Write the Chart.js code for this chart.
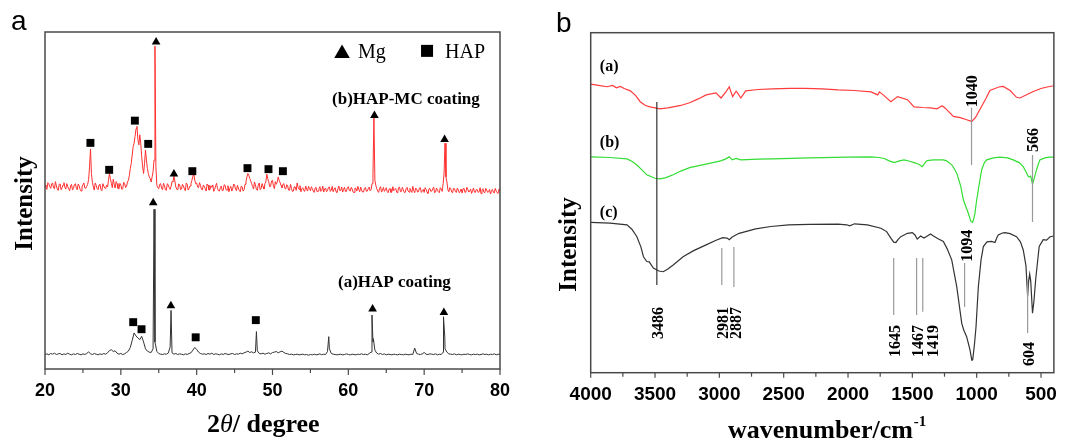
<!DOCTYPE html>
<html><head><meta charset="utf-8">
<script src="https://cdn.jsdelivr.net/npm/chart.js@4.4.1/dist/chart.umd.min.js"></script>
<style>
html,body{margin:0;padding:0;background:#fff;}
#wrap{position:relative;width:1068px;height:444px;overflow:hidden;background:#fff;}
canvas{position:absolute;top:0;}
#cA{left:0;} #cB{left:540px;}
</style></head><body>
<div id="wrap"><canvas id="cA" width="540" height="444"></canvas><canvas id="cB" width="528" height="444"></canvas></div>
<script>
// ---------------- Panel a : XRD ----------------
const xrdStart = 20, xrdStep = 0.25;
const xrdTicks = [20, 30, 40, 50, 60, 70, 80];
// (b) HAP-MC coating, read every 0.25 deg from 20 deg ...
const hapMcBase = [
54.6,53.3,55.0,53.6, 55.2,53.5,54.3,53.0, 54.9,53.8,55.3,53.4, 54.1,52.9,54.8,53.6,
55.0,53.2,54.4,52.8, 54.6,53.7,54.2,56.2, 65.3,55.4,53.1,54.5, 53.2,54.8,52.9,54.3,
53.5,54.0,58.0,55.1, 56.3,53.7,55.0,53.4, 54.6,53.5,55.0,54.2, 56.0,59.5,63.5,67.0,
71.3,68.0,69.5,63.0, 58.0,65.0,59.5,57.0, 55.5,58.5,95.8,54.5, 53.5,55.0,53.2,54.4,
53.0,54.6,53.3,55.6, 57.2,54.0,53.1,54.7, 53.4,54.3,52.9,54.8, 53.6,55.0,57.2,56.0,
55.2,53.8,54.5,53.1, 54.2,52.8,54.6,53.2, 53.9,52.7,54.4,53.5, 52.8,54.3,53.0,54.5,
53.1,52.6,54.2,53.4, 54.6,52.9,53.7,52.6, 54.0,53.2,55.5,58.0, 56.5,55.0,53.4,54.6,
53.0,55.2,53.6,54.1, 55.0,57.8,55.6,54.2, 56.0,53.5,54.8,57.0, 55.3,53.8,55.0,53.4,
54.3,53.0,53.6,52.8, 54.0,55.2,53.3,52.6, 53.8,52.7,53.4,54.2, 52.9,53.5,52.4,53.9,
52.8,54.1,53.0,52.5, 53.7,52.9,54.0,53.1, 52.6,53.8,52.4,54.3, 53.0,52.5,53.9,52.7,
54.1,52.8,53.4,52.4, 53.6,54.2,52.6,53.1, 52.5,53.9,52.8,54.0, 53.2,58.0,56.0,53.5,
52.4,54.1,53.0,52.7, 53.8,52.3,53.5,52.6, 52.9,53.6,52.2,54.0, 52.7,53.2,52.4,53.9,
52.5,53.0,54.2,52.3, 53.4,52.6,53.8,52.9, 52.4,53.3,52.1,53.6, 52.8,54.0,52.5,53.1,
52.3,53.4,55.0,67.0, 55.5,52.6,53.6,52.3, 53.5,52.4,53.1,52.7, 52.2,53.6,52.5,53.3,
52.8,52.1,53.7,52.4, 53.2,52.6,52.0,53.5, 52.3,53.1,52.6,51.9, 53.3,52.2,52.8,52.1,
52.7];
// ... and in between, every 0.25 deg from 20.125 deg
const hapMcMid = [
53.9,55.3,54.1,54.9, 53.7,55.6,53.4,54.8, 53.2,54.6,53.9,55.0, 53.5,54.3,53.1,54.7,
53.8,54.9,53.3,54.0, 55.2,53.6,54.8,60.0, 58.0,54.0,55.2,53.5, 54.6,53.3,55.0,53.7,
54.5,56.0,56.5,53.8, 54.8,55.6,53.6,55.1, 53.3,55.4,53.8,55.5, 57.5,61.0,66.0,69.0,
72.0,66.5,67.0,60.0, 61.0,62.0,58.0,56.5, 57.0,62.0,60.0,53.8, 54.8,53.6,55.1,53.2,
55.0,53.8,54.2,55.5, 55.8,53.4,54.9,53.2, 54.8,53.5,55.2,53.1, 54.3,56.0,58.0,55.0,
54.0,55.3,53.4,54.6, 53.5,54.9,53.1,54.4, 54.6,53.3,55.1,52.9, 53.8,52.9,54.7,53.2,
54.4,53.6,52.8,54.9, 53.3,54.5,52.9,54.3, 52.8,54.8,57.0,57.5, 55.8,54.2,55.5,53.3,
54.6,53.2,55.0,53.4, 55.5,56.5,54.1,55.8, 54.2,55.6,55.5,56.0, 54.5,54.8,53.6,54.7,
53.1,54.8,52.7,54.1, 53.0,53.9,54.4,53.5, 52.9,54.3,52.8,53.6, 54.1,52.8,53.7,52.6,
53.5,52.7,54.3,53.4, 52.6,53.9,52.7,54.2, 53.4,52.6,53.5,52.9, 54.0,53.3,52.6,53.8,
53.0,53.9,52.5,53.7, 52.8,53.3,54.0,52.5, 53.6,52.7,53.5,52.9, 55.0,74.5,54.5,52.8,
53.6,52.5,53.9,53.2, 52.6,53.4,52.4,54.1, 53.3,52.5,53.8,52.6, 53.9,52.4,53.5,52.8,
53.6,52.4,53.0,53.7, 52.5,53.7,52.4,53.3, 53.8,52.5,53.4,52.7, 53.4,52.3,53.7,52.6,
53.8,52.7,58.0,57.0, 53.2,53.8,52.5,53.6, 52.6,53.7,52.3,53.4, 53.5,52.4,53.9,52.5,
53.4,52.9,52.5,53.3, 52.4,53.8,53.1,52.5, 53.6,52.4,53.3,52.8, 52.5,53.6,52.3,53.4];
// (a) HAP coating, every 0.25 deg from 20 deg, plus the sharp reflections
const hapBase = [
4.3,4.5,4.2,4.6, 4.4,4.7,4.3,4.5, 4.6,4.2,4.5,4.3, 4.7,4.4,4.2,4.5,
4.3,4.6,4.4,4.2, 4.5,4.3,4.6,5.1, 4.5,4.3,4.6,4.4, 4.2,4.5,4.3,4.6,
4.4,4.8,5.5,5.7, 5.2,5.4,4.7,4.4, 4.6,4.3,4.5,4.9, 5.3,6.4,8.5,10.7,
9.8,9.2,8.7,9.7, 8.0,6.0,5.3,5.0, 4.9,6.0,8.0,5.2, 4.6,4.4,4.3,4.5,
4.4,4.7,6.5,4.8, 4.4,4.6,4.3,4.5, 4.4,4.2,4.5,4.3, 4.6,4.8,5.6,6.4,
5.8,5.0,4.6,4.4, 4.5,4.3,4.6,4.4, 4.7,4.3,4.5,4.4, 4.2,4.5,4.3,4.6,
4.4,4.3,4.5,4.6, 4.3,4.5,4.4,4.7, 4.5,4.8,5.0,5.3, 4.9,5.1,4.8,5.0,
5.4,4.6,4.5,4.7, 4.4,4.6,4.8,4.5, 4.9,5.0,5.2,4.8, 5.1,5.3,4.9,4.6,
4.5,4.3,4.4,4.2, 4.3,4.4,4.2,4.3, 4.4,4.2,4.3,4.1, 4.3,4.2,4.4,4.2,
4.3,4.5,4.2,4.4, 4.3,5.2,6.0,4.6, 4.4,4.3,4.2,4.3, 4.4,4.2,4.3,4.5,
4.3,4.2,4.4,4.3, 4.2,4.4,4.3,4.5, 4.3,4.4,4.2,4.6, 5.0,8.0,5.6,4.7,
4.4,4.6,4.3,4.5, 4.2,4.4,4.3,4.2, 4.4,4.3,4.2,4.4, 4.3,4.2,4.4,4.3,
4.2,4.4,4.3,6.2, 4.6,4.4,4.3,4.5, 4.9,4.4,4.3,4.5, 4.4,4.3,4.5,4.2,
4.4,4.3,5.0,6.0, 5.0,4.5,4.4,4.3, 4.5,4.2,4.4,4.3, 4.2,4.4,4.3,4.5,
4.3,4.2,4.4,4.3, 4.4,4.2,4.3,4.5, 4.3,4.4,4.2,4.4, 4.3,4.5,4.2,4.4,
4.3];
const hapPeaks = [[34.38,47.4],[36.62,17.4],[47.88,11.1],[57.42,9.6],[63.12,16.0],[63.3,9.0],[72.55,15.5],[72.72,9.5]];
// phase markers
const mgOnMc  = [[34.65,97.0],[37.0,57.9],[63.44,75.2],[72.69,68.1]];
const hapOnMc = [[25.99,67.1],[28.46,59.1],[31.85,73.7],[33.61,66.8],[39.43,58.7],[46.7,59.6],[49.47,59.3],[51.37,58.7]];
const mgOnHap  = [[34.27,49.3],[36.6,18.8],[63.2,17.8],[72.6,16.8]];
const hapOnHap = [[31.63,13.9],[32.73,11.8],[39.87,9.4],[47.8,14.5]];

// ---------------- Panel b : FTIR ----------------
const ftirTicks = [4000, 3500, 3000, 2500, 2000, 1500, 1000, 500];
const ftirA = [[4000,84.9],[3940,84.5],[3872,84.1],[3830,84.5],[3800,83.8],[3770,84.2],[3740,83.6],[3692,82.9],[3650,81.5],[3615,79.7],[3575,78.6],[3538,78.2],[3462,77.6],[3400,77.9],[3359,78.2],[3300,78.6],[3231,79.4],[3160,80.6],[3103,81.7],[3026,82.3],[2987,80.8],[2949,82.6],[2923,84.1],[2897,81.2],[2870,82.8],[2859,82.3],[2833,80.8],[2795,82.9],[2700,83.3],[2590,83.5],[2450,83.6],[2333,83.6],[2200,83.5],[2077,83.2],[1950,83.0],[1821,82.6],[1769,81.7],[1756,82.6],[1720,81.5],[1667,79.7],[1615,81.2],[1538,80.3],[1487,78.2],[1420,78.0],[1360,77.9],[1308,77.6],[1269,78.5],[1244,77.8],[1181,75.4],[1128,75.0],[1078,74.4],[1039,73.9],[1010,75.0],[974,77.5],[930,80.5],[897,83.0],[858,83.6],[821,84.1],[793,84.2],[740,83.0],[690,81.0],[664,80.8],[620,81.6],[560,82.7],[500,83.6],[444,84.1],[400,84.4]];
const ftirB = [[4000,63.5],[3850,63.3],[3718,62.9],[3680,62.2],[3641,61.1],[3600,59.6],[3564,58.2],[3500,57.2],[3462,57.0],[3420,57.3],[3359,58.2],[3300,59.3],[3231,60.3],[3150,61.0],[3051,61.8],[2990,62.3],[2949,62.9],[2923,63.5],[2900,62.6],[2870,63.0],[2833,62.6],[2700,62.8],[2590,62.9],[2300,63.2],[2000,63.4],[1821,63.5],[1760,63.3],[1718,63.0],[1680,62.3],[1641,61.8],[1600,62.3],[1564,62.6],[1520,62.2],[1487,61.8],[1450,61.3],[1423,60.6],[1400,61.8],[1385,62.4],[1336,62.6],[1260,62.6],[1233,62.3],[1190,61.0],[1155,58.7],[1125,55.0],[1103,50.8],[1065,46.9],[1045,44.5],[1031,44.2],[1015,46.5],[1000,50.8],[980,55.5],[961,59.7],[940,61.8],[922,62.6],[870,63.2],[819,63.4],[760,63.2],[716,62.6],[670,61.8],[638,60.6],[610,58.6],[599,57.7],[590,57.6],[580,57.8],[566,55.4],[550,57.5],[535,59.7],[509,62.6],[470,63.2],[432,63.4],[400,63.4]];
const ftirC = [[4000,44.2],[3850,44.0],[3718,43.5],[3680,42.2],[3641,40.0],[3610,37.0],[3590,34.1],[3564,32.7],[3545,32.6],[3513,30.8],[3470,29.9],[3436,29.7],[3400,30.5],[3359,31.7],[3282,34.1],[3200,35.9],[3103,37.6],[3030,38.9],[2974,39.7],[2940,39.6],[2923,39.1],[2900,39.9],[2872,40.5],[2846,41.0],[2718,42.3],[2600,43.0],[2462,43.5],[2300,43.6],[2077,43.7],[2010,43.5],[1987,43.2],[1949,43.8],[1850,43.5],[1744,42.5],[1700,41.5],[1667,39.6],[1645,38.4],[1628,38.3],[1610,39.2],[1590,40.0],[1538,41.0],[1500,41.2],[1480,40.5],[1462,39.3],[1436,40.2],[1410,39.6],[1380,40.3],[1359,40.8],[1336,40.2],[1300,39.4],[1259,38.6],[1230,36.5],[1194,33.2],[1155,25.3],[1116,14.5],[1100,12.5],[1078,10.6],[1052,6.7],[1038,3.7],[1031,3.8],[1018,8.0],[1005,13.5],[987,25.3],[966,33.2],[948,37.1],[920,38.5],[884,38.6],[858,38.3],[840,40.0],[832,40.5],[800,41.1],[780,41.2],[740,40.9],[690,40.0],[660,38.5],[638,36.1],[617,31.5],[604,22.5],[596,27.0],[588,29.0],[580,27.0],[566,17.5],[555,21.0],[540,28.0],[514,37.1],[483,39.1],[457,39.0],[430,40.0],[400,40.2]];
const seriesNames = ['(a)', '(b)', '(c)'];
const seriesLabelV = [90.0, 67.6, 47.0];
// assigned bands: wavenumber, marker line top / bottom, label anchor
const bandWn     = [3486, 2981, 2887, 1645, 1467, 1419, 1094, 604, 1040, 566];
const bandTop    = [79.6, 36.7, 37.0, 33.7, 33.7, 33.7, 32.3, 26.7, 77.9, 64.0];
const bandBottom = [25.8, 25.8, 25.2, 17.0, 17.0, 17.9, 19.3, 11.7, 61.1, 44.3];
const bandLabelWn = [3468, 2963, 2867, 1627, 1449, 1335, 1066, 584, 1027, 553];
const bandLabelV  = [19.3, 19.3, 19.3, 14.0, 14.0, 14.0, 32.6, 9.0, 78.1, 64.9];
const bandLabelSide = ['below','below','below','below','below','below','above','below','above','above'];

// ---------------- helpers ----------------
const SERIF = '"Liberation Serif", "Times New Roman", serif';
const SANS = '"Liberation Sans", Arial, sans-serif';
function gridSeries(base, mid, peaks) {
  const pts = base.map((v, i) => ({x: xrdStart + i * xrdStep, y: v}));
  mid.forEach((v, i) => pts.push({x: xrdStart + xrdStep / 2 + i * xrdStep, y: v}));
  peaks.forEach(p => pts.push({x: p[0], y: p[1]}));
  pts.sort((a, b) => a.x - b.x);
  return pts;
}
const toPts = arr => arr.map(p => ({x: p[0], y: p[1]}));
function frameAndTicks(chart, majorEvery, majorLen, minorLen, minorEvery) {
  const {ctx, chartArea: a, scales: {x}} = chart;
  ctx.save();
  ctx.strokeStyle = '#4a4a4a';
  ctx.lineWidth = 1.5;
  ctx.strokeRect(a.left, a.top, a.right - a.left, a.bottom - a.top);
  ctx.lineWidth = 1.2;
  x.ticks.forEach(t => {
    if (Math.abs(t.value % minorEvery) > 1e-6) return;
    const px = x.getPixelForValue(t.value);
    const len = Math.abs(t.value % majorEvery) < 1e-6 ? majorLen : minorLen;
    ctx.beginPath(); ctx.moveTo(px, a.bottom); ctx.lineTo(px, a.bottom + len); ctx.stroke();
  });
  ctx.restore();
}
function drawTri(ctx, cx, cy, r) {
  ctx.beginPath();
  ctx.moveTo(cx, cy - r);
  ctx.lineTo(cx + r * 0.866, cy + r * 0.5);
  ctx.lineTo(cx - r * 0.866, cy + r * 0.5);
  ctx.closePath(); ctx.fill();
}

// ---------------- chart a ----------------
const xrdDecor = {
  id: 'xrdDecor',
  afterDraw(chart) {
    frameAndTicks(chart, 10, 6, 4, 5);
    const {ctx, scales: {x, y}} = chart;
    ctx.save();
    ctx.fillStyle = '#000';
    ctx.font = '28px ' + SANS; ctx.textAlign = 'left'; ctx.textBaseline = 'alphabetic';
    ctx.fillText('a', 11, 30);
    // legend
    drawTri(ctx, x.getPixelForValue(59.17), y.getPixelForValue(93.6), 9);
    ctx.fillRect(x.getPixelForValue(70.38) - 6, y.getPixelForValue(94.4) - 6, 12, 12);
    ctx.font = '20px ' + SERIF;
    ctx.fillText('Mg', x.getPixelForValue(61.28), y.getPixelForValue(92.3));
    ctx.fillText('HAP', x.getPixelForValue(72.75), y.getPixelForValue(92.3));
    // curve labels
    ctx.font = 'bold 17px ' + SERIF;
    ctx.fillText('(b)HAP-MC coating', x.getPixelForValue(57.85), y.getPixelForValue(78.6));
    ctx.fillText('(a)HAP coating', x.getPixelForValue(58.64), y.getPixelForValue(24.3));
    // axis titles
    let cx = 207; const by = 432;
    ctx.font = 'bold 26px ' + SERIF; ctx.fillText('2', cx, by); cx += ctx.measureText('2').width;
    ctx.font = 'italic 26px ' + SERIF; ctx.fillText('\u03B8', cx, by); cx += ctx.measureText('\u03B8').width;
    ctx.font = 'bold 26px ' + SERIF; ctx.fillText('/ degree', cx, by);
    ctx.save();
    ctx.translate(32, 203.5); ctx.rotate(-Math.PI / 2);
    ctx.font = 'bold 25px ' + SERIF; ctx.textAlign = 'center';
    ctx.fillText('Intensity', 0, 0);
    ctx.restore();
    ctx.restore();
  }
};

new Chart(document.getElementById('cA'), {
  type: 'scatter',
  data: {datasets: [
    {label: 'Mg', data: toPts(mgOnMc.concat(mgOnHap)), pointStyle: 'triangle', pointRadius: 5, backgroundColor: '#000', borderColor: '#000', borderWidth: 0, showLine: false},
    {label: 'HAP', data: toPts(hapOnMc.concat(hapOnHap)), pointStyle: 'rect', pointRadius: 5.6, backgroundColor: '#000', borderColor: '#000', borderWidth: 0, showLine: false},
    {label: '(b)HAP-MC coating', data: gridSeries(hapMcBase, hapMcMid, []), showLine: true, borderColor: '#ff3030', borderWidth: 1, pointRadius: 0, tension: 0},
    {label: '(a)HAP coating', data: gridSeries(hapBase, [], hapPeaks), showLine: true, borderColor: '#333', borderWidth: 1, pointRadius: 0, tension: 0}
  ]},
  options: {
    responsive: false, animation: false, devicePixelRatio: 1,
    layout: {padding: {left: 45, right: 40, top: 32, bottom: 0}},
    plugins: {legend: {display: false}, tooltip: {enabled: false}},
    events: [],
    scales: {
      x: {type: 'linear', min: 20, max: 80,
          grid: {display: false, drawTicks: false}, border: {display: false},
          ticks: {stepSize: 5, autoSkip: false, maxRotation: 0, includeBounds: false, padding: 11,
                  color: '#000', font: {family: SANS, weight: 'bold', size: 18},
                  callback: v => (xrdTicks.includes(v) ? String(v) : '')},
          afterFit: s => { s.height = 75; }},
      y: {display: false, min: 0, max: 100}
    }
  },
  plugins: [xrdDecor]
});

// ---------------- chart b ----------------
const ftirDecor = {
  id: 'ftirDecor',
  afterDraw(chart) {
    frameAndTicks(chart, 500, 5, 4, 250);
    const {ctx, scales: {x, y}} = chart;
    ctx.save();
    ctx.fillStyle = '#000';
    ctx.font = '28px ' + SANS; ctx.textAlign = 'left'; ctx.textBaseline = 'alphabetic';
    ctx.fillText('b', 16, 32);
    ctx.font = 'bold 16px ' + SERIF; ctx.textBaseline = 'middle';
    seriesNames.forEach((s, i) => ctx.fillText(s, x.getPixelForValue(3929), y.getPixelForValue(seriesLabelV[i])));
    bandWn.forEach((w, i) => {
      ctx.save();
      ctx.translate(x.getPixelForValue(bandLabelWn[i]), y.getPixelForValue(bandLabelV[i]));
      ctx.rotate(-Math.PI / 2);
      ctx.textAlign = bandLabelSide[i] === 'below' ? 'right' : 'left';
      ctx.textBaseline = 'middle';
      ctx.fillText(String(w), 0, 0);
      ctx.restore();
    });
    ctx.textBaseline = 'alphabetic'; ctx.textAlign = 'left';
    let cx = 188; const by = 438;
    ctx.font = 'bold 26px ' + SERIF; ctx.fillText('wavenumber/cm', cx, by); cx += ctx.measureText('wavenumber/cm').width;
    ctx.font = 'bold 15px ' + SERIF; ctx.fillText('-1', cx + 1, by - 12);
    ctx.save();
    ctx.translate(36, 244.5); ctx.rotate(-Math.PI / 2);
    ctx.font = 'bold 25px ' + SERIF; ctx.textAlign = 'center';
    ctx.fillText('Intensity', 0, 0);
    ctx.restore();
    ctx.restore();
  }
};

const bandDatasets = bandWn.map((w, i) => ({
  label: 'band ' + w,
  data: [{x: w, y: bandTop[i]}, {x: w, y: bandBottom[i]}],
  showLine: true, borderColor: i === 0 ? '#333' : '#9a9a9a', borderWidth: 1.2, pointRadius: 0
}));

new Chart(document.getElementById('cB'), {
  type: 'scatter',
  data: {datasets: bandDatasets.concat([
    {label: '(a)', data: toPts(ftirA), showLine: true, borderColor: '#ff3b3b', borderWidth: 1.2, pointRadius: 0, tension: 0},
    {label: '(b)', data: toPts(ftirB), showLine: true, borderColor: '#33dd33', borderWidth: 1.2, pointRadius: 0, tension: 0},
    {label: '(c)', data: toPts(ftirC), showLine: true, borderColor: '#333', borderWidth: 1.2, pointRadius: 0, tension: 0}
  ])},
  options: {
    responsive: false, animation: false, devicePixelRatio: 1,
    layout: {padding: {left: 50.7, right: 5.3, top: 32.7, bottom: 0}},
    plugins: {legend: {display: false}, tooltip: {enabled: false}},
    events: [],
    scales: {
      x: {type: 'linear', min: 400, max: 4000, reverse: true,
          grid: {display: false, drawTicks: false}, border: {display: false},
          ticks: {stepSize: 250, autoSkip: false, maxRotation: 0, includeBounds: false, padding: 11,
                  color: '#000', font: {family: SANS, weight: 'bold', size: 19},
                  callback: v => (ftirTicks.includes(v) ? String(v) : '')},
          afterFit: s => { s.height = 71.3; }},
      y: {display: false, min: 0, max: 100}
    }
  },
  plugins: [ftirDecor]
});
</script></body></html>
